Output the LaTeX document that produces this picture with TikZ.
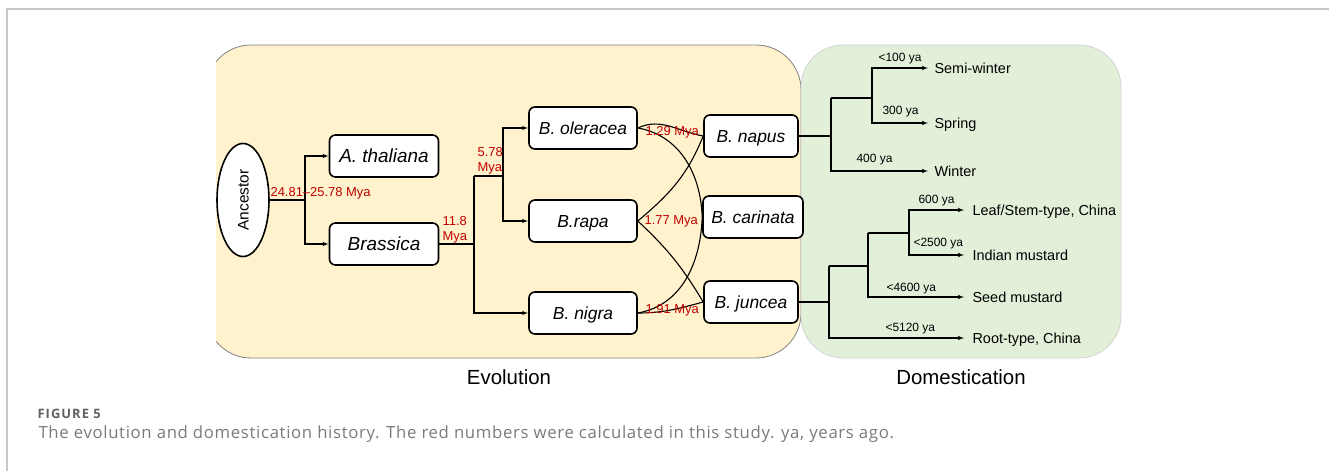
\documentclass[tikz,border=0pt]{standalone}
\usepackage{fontspec}
\setmainfont{Liberation Sans}
\newfontfamily\capfont[LetterSpace=8]{Open Sans}
\newfontfamily\captextfont[LetterSpace=4]{Open Sans}
\usepackage{tikz}
\usetikzlibrary{arrows,shapes,positioning,fit}

\definecolor{evofill}{HTML}{FFF2CC}
\definecolor{evoline}{HTML}{808080}
\definecolor{domfill}{HTML}{E2EFD9}
\definecolor{domline}{HTML}{D4D4D4}
\definecolor{agered}{HTML}{C00000}
\definecolor{framegray}{HTML}{C8C8C8}
\definecolor{capgray}{HTML}{7A7A7A}

\begin{document}
\begin{tikzpicture}[x=1bp, y=-1bp, >=latex', line width=1.1bp,
    taxon/.style={rectangle, rounded corners=6bp, draw, line width=1.6bp, fill=white,
        minimum height=42bp, inner sep=0pt, text height=12.5bp, text depth=0pt,
        font=\fontsize{17.5}{20}\selectfont\itshape},
    ancestor/.style={ellipse, draw, line width=1.6bp, fill=white, rotate=90,
        minimum width=113bp, minimum height=52bp, inner sep=0pt,
        text height=11bp, text depth=0pt, font=\fontsize{15.5}{18}\selectfont},
    age/.style={text=agered, inner sep=0pt, font=\fontsize{13}{15}\selectfont},
    ya/.style={inner sep=0pt, anchor=base west, font=\fontsize{12}{14}\selectfont},
    cultivar/.style={anchor=west, inner xsep=6bp, inner ysep=0pt, text height=10.4bp,
        text depth=0pt, font=\fontsize{14.5}{17}\selectfont},
    panel/.style={anchor=base, inner sep=0pt, font=\fontsize{20.5}{24}\selectfont}]

    \useasboundingbox (0,0) rectangle (1329,471);
    \draw[framegray, line width=1.5bp] (1329,9) -- (7,9) -- (7,471);

    % panels
    \begin{scope}
        \clip (216,0) rectangle (1329,471);
        \draw[fill=evofill, draw=evoline, line width=0.8bp, rounded corners=45bp] (206,45) rectangle (801,358);
    \end{scope}
    \draw[fill=domfill, draw=domline, line width=0.8bp, rounded corners=42bp] (801,45) rectangle (1121,358);

    % evolution
    \node[ancestor] (anc) at (243,200) {Ancestor};
    \node[taxon, minimum width=109bp, text height=13.5bp, font=\fontsize{19}{22}\selectfont\itshape] (ath) at (384,156) {A. thaliana};
    \node[taxon, minimum width=109bp, text height=13.5bp, font=\fontsize{19}{22}\selectfont\itshape] (bra) at (384,244) {Brassica};
    \node[taxon, minimum width=108bp] (ole) at (583,128) {B. oleracea};
    \node[taxon, minimum width=108bp] (rap) at (583,221) {B.rapa};
    \node[taxon, minimum width=108bp] (nig) at (583,313) {B. nigra};
    \node[taxon, minimum width=94bp] (nap) at (751,136) {B. napus};
    \node[taxon, minimum width=100bp] (car) at (753,217) {B. carinata};
    \node[taxon, minimum width=94bp] (jun) at (751,302) {B. juncea};

    \coordinate (j1) at (305,200);
    \coordinate (j2) at (474,244);
    \coordinate (j3) at (474,176);
    \coordinate (j4) at (503,176);
    \draw (anc) -- (j1);
    \draw[->] (j1) |- (ath);
    \draw[->] (j1) |- (bra);
    \draw (bra) -- (j2);
    \draw[->] (j3) |- (nig);
    \draw (j3) -- (j4);
    \draw[->] (j4) |- (ole);
    \draw[->] (j4) |- (rap);

    \draw (ole.east) to[out=25, in=170] (nap.west);
    \draw (ole.east) to[out=-10, in=92] (car.west);
    \draw (nig.east) to[out=10, in=-92] (car.west);
    \draw (rap.east) to[out=40, in=-112] (nap.west);
    \draw (rap.east) to[bend left=8] (jun.west);
    \draw (nig.east) to[out=0, in=195] (jun.west);

    \node[age, anchor=base west] (t1) at (270,197) {24.81--25.78 Mya};
    \node[age, anchor=base west, align=left] (t2) at (442,241) {11.8\\[0.5bp]Mya};
    \node[age, anchor=base west, align=left] (t3) at (477,172) {5.78\\[0.5bp]Mya};
    \node[age, anchor=base west] (t4) at (645,136) {1.29 Mya};
    \node[age, anchor=base west] (t5) at (644,225) {1.77 Mya};
    \node[age, anchor=base west] (t6) at (645,314) {1.91 Mya};

    % domestication
    \node[cultivar] (semi) at (928,68) {Semi-winter};
    \node[cultivar] (spr) at (928,123) {Spring};
    \node[cultivar] (win) at (928,171) {Winter};
    \node[cultivar, inner xsep=8bp] (leaf) at (964,210) {Leaf/Stem-type, China};
    \node[cultivar, inner xsep=8bp] (ind) at (964,255) {Indian mustard};
    \node[cultivar, inner xsep=8bp] (seed) at (964,297) {Seed mustard};
    \node[cultivar, inner xsep=8bp] (root) at (964,338) {Root-type, China};

    \coordinate (d1) at (831,136);
    \coordinate (d2) at (831,98);
    \coordinate (d3) at (872,98);
    \draw (nap) -- (d1);
    \draw (d2) -- (d3);
    \draw[->] (d2) |- (win);
    \draw[->] (d3) |- (semi);
    \draw[->] (d3) |- (spr);

    \coordinate (e1) at (829,302);
    \coordinate (e2) at (829,266);
    \coordinate (e3) at (868,266);
    \coordinate (e4) at (868,233);
    \coordinate (e5) at (909,233);
    \draw (jun) -- (e1);
    \draw (e2) -- (e3);
    \draw[->] (e2) |- (root);
    \draw[->] (e4) |- (seed);
    \draw (e4) -- (e5);
    \draw[->] (e5) |- (leaf);
    \draw[->] (e5) |- (ind);

    \node[ya] (y1) at (878,61.5) {<100 ya};
    \node[ya] (y2) at (882,115) {300 ya};
    \node[ya] (y3) at (856,162.5) {400 ya};
    \node[ya] (y4) at (918,204) {600 ya};
    \node[ya] (y5) at (913,247) {<2500 ya};
    \node[ya] (y6) at (886,292) {<4600 ya};
    \node[ya] (y7) at (885,331.5) {<5120 ya};

    % titles and caption
    \node[panel] (evo) at (509,384) {Evolution};
    \node[panel] (dom) at (961,384) {Domestication};
    \node[anchor=base west, inner sep=0pt, text=black!62, font=\capfont\bfseries\fontsize{13}{15}\selectfont] (fig) at (37,418) {FIGURE 5};
    \node[anchor=base west, inner sep=0pt, text=capgray, font=\captextfont\fontsize{16.8}{19}\selectfont] (cap) at (38,438) {The evolution and domestication history. The red numbers were calculated in this study. ya, years ago.};
\end{tikzpicture}
\end{document}
